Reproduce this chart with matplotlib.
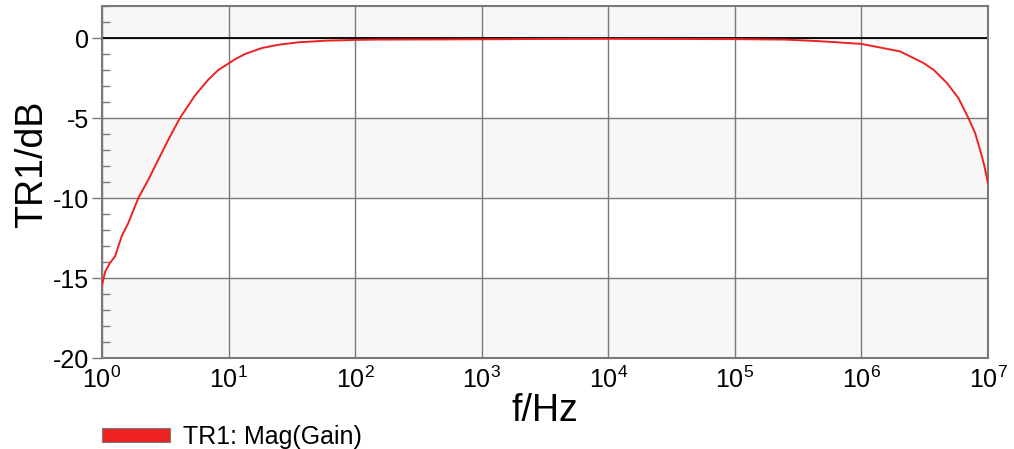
import numpy as np
import matplotlib
matplotlib.use('Agg')
import matplotlib.pyplot as plt
from matplotlib.patches import Patch
from matplotlib.ticker import MultipleLocator, FixedLocator, NullLocator

plt.rcParams['font.family'] = ['Liberation Sans', 'DejaVu Sans']
plt.rcParams['mathtext.fontset'] = 'custom'
plt.rcParams['mathtext.rm'] = 'Liberation Sans'
plt.rcParams['mathtext.it'] = 'Liberation Sans'
plt.rcParams['mathtext.default'] = 'regular'

# values (Hz, dB)
freq = [1.0, 1.06, 1.156, 1.268, 1.429, 1.614, 1.936, 2.323, 2.786, 3.342,
        4.13, 5.42, 6.92, 8.3, 9.95, 11.3, 13.5, 18.3, 24.8, 35.7, 58, 100,
        145, 1e3, 3e3, 1e4, 3e4, 1e5, 2.5e5, 4.7e5, 1e6, 1.48e6, 2.02e6,
        2.43e6, 3.09e6, 3.71e6, 4.73e6, 5.83e6, 7.0e6, 7.91e6, 8.65e6,
        9.31e6, 1e7]
gain_db = [-15.45, -14.6, -14.06, -13.65, -12.4, -11.56, -10.0, -8.86, -7.6,
           -6.36, -5.0, -3.6, -2.6, -2.0, -1.6, -1.32, -1.0, -0.63, -0.42,
           -0.27, -0.17, -0.12, -0.1, -0.08, -0.06, -0.05, -0.06, -0.07, -0.1,
           -0.2, -0.37, -0.63, -0.84, -1.15, -1.56, -1.98, -2.81, -3.75, -5.0,
           -5.94, -6.98, -7.92, -9.1]
band_edges = [2, 0, -5, -10, -15, -20]
y_ticks = [0, -5, -10, -15, -20]
x_decades = [0, 1, 2, 3, 4, 5, 6, 7]

fig = plt.figure(figsize=(10.14, 4.49), dpi=100)
ax = fig.add_axes([102/1014, 1 - 358/449, 886/1014, 352/449])

ax.set_xscale('log')
ax.set_xlim(1, 1e7)
ax.set_ylim(-20, 2)

# alternating background bands
for i in range(len(band_edges) - 1):
    if i % 2 == 0:
        ax.axhspan(band_edges[i + 1], band_edges[i], color='#f7f7f7', zorder=0, lw=0)

ax.grid(True, which='major', color='#7a7a7a', lw=1.0, zorder=1)
ax.axhline(0, color='black', lw=1.3, zorder=2)

ax.plot(freq, gain_db, color='#ee2222', lw=1.4, zorder=3)

ax.set_yticks(y_ticks)
ax.set_yticklabels([str(t) for t in y_ticks])
ax.yaxis.set_minor_locator(MultipleLocator(1))
ax.xaxis.set_major_locator(FixedLocator([10.0 ** d for d in x_decades]))
ax.set_xticklabels(['$10^{%d}$' % d for d in x_decades])
ax.xaxis.set_minor_locator(NullLocator())

ax.tick_params(axis='y', which='major', direction='out', length=7, width=1,
               color='#7a7a7a', labelsize=18, pad=2)
ax.tick_params(axis='y', which='minor', direction='in', length=6, width=1,
               color='#7a7a7a')
ax.tick_params(axis='x', which='major', length=0, labelsize=18, pad=6)

for s in ax.spines.values():
    s.set_color('#7a7a7a')
    s.set_linewidth(1.5)

ax.set_ylabel('TR1/dB', fontsize=27, labelpad=4)
ax.yaxis.set_label_coords(-0.059, 0.55)
ax.set_xlabel('f/Hz', fontsize=27, labelpad=0)

handle = Patch(facecolor='#ee2222', edgecolor='#7a7a7a', lw=0.8)
fig.legend([handle], ['TR1: Mag(Gain)'], loc='center left',
           bbox_to_anchor=(102/1014, 12/449), frameon=False, fontsize=18,
           borderpad=0, borderaxespad=0,
           handlelength=2.7, handleheight=0.45, handletextpad=0.55)

fig.savefig('out.png', dpi=100)
